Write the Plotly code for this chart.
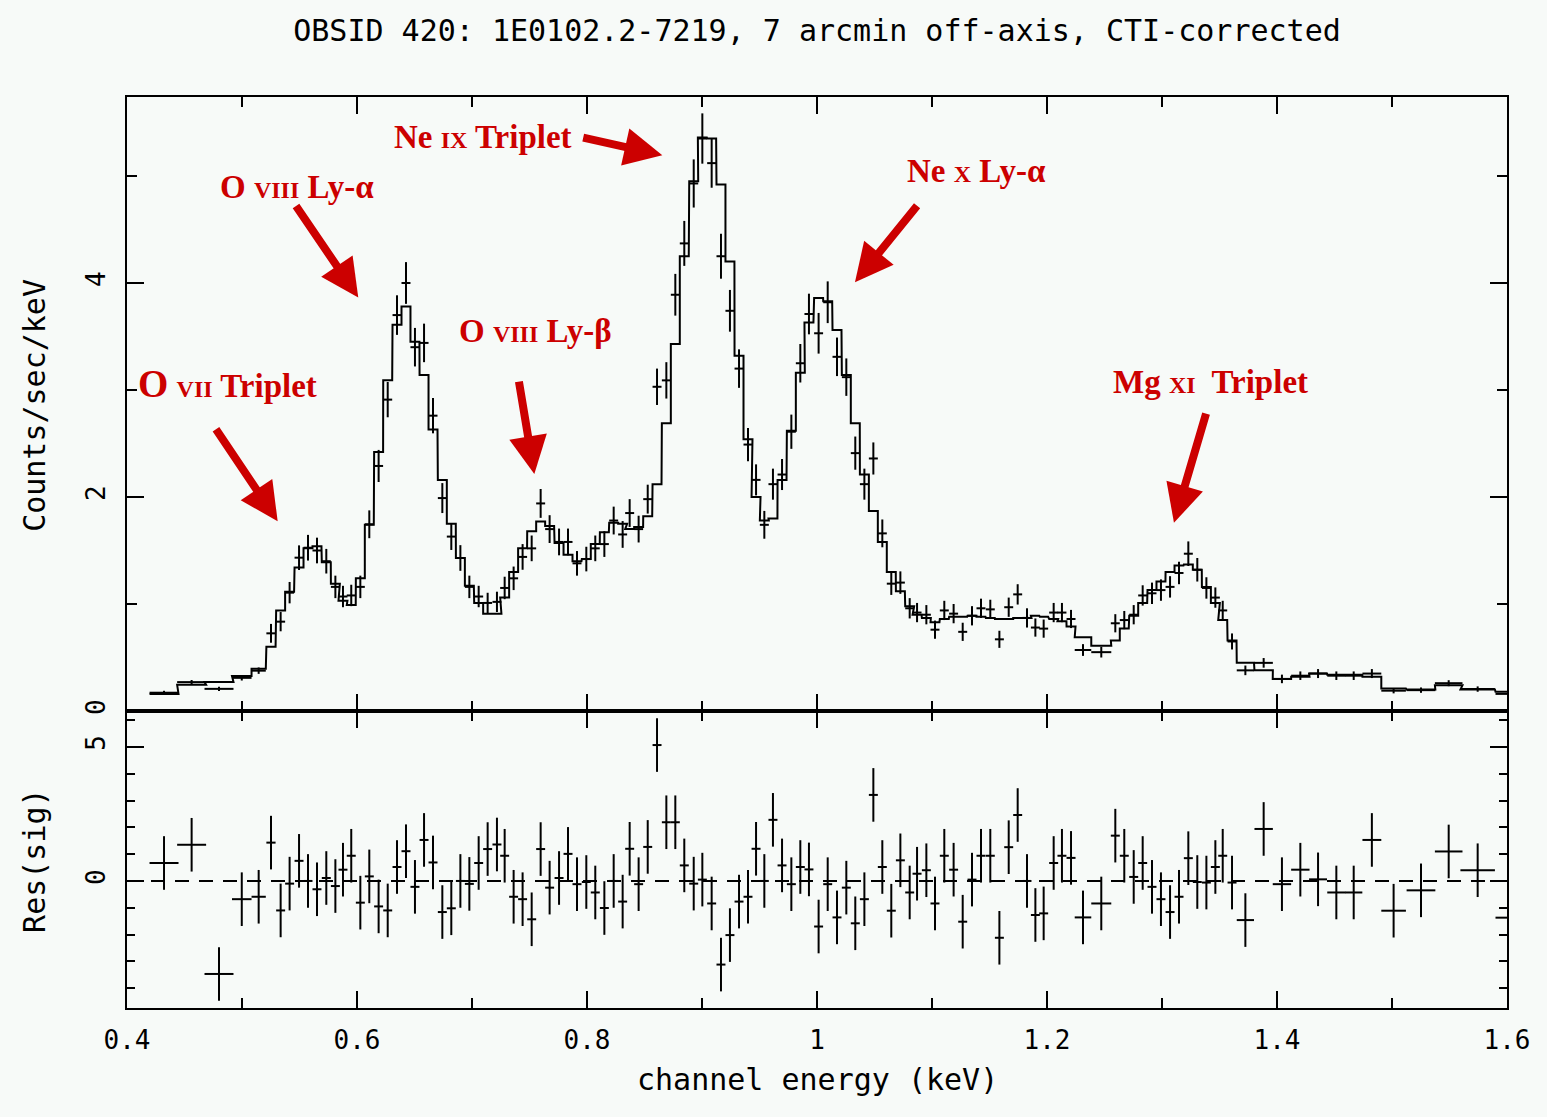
import plotly.graph_objects as go

# ---------------- data ----------------
energy = [
    0.4322, 0.4562, 0.4800, 0.4998, 0.5145, 0.5252,
    0.5336, 0.5414, 0.5496, 0.5574, 0.5652, 0.5733, 0.5812, 0.5878, 0.5950, 0.6029,
    0.6107, 0.6188, 0.6267, 0.6348, 0.6426, 0.6504, 0.6583, 0.6661, 0.6742, 0.6820,
    0.6899, 0.6977, 0.7058, 0.7136, 0.7217, 0.7284, 0.7362, 0.7440, 0.7519, 0.7597,
    0.7675, 0.7757, 0.7835, 0.7913, 0.7994,
    0.8072, 0.8151, 0.8232, 0.8310, 0.8371, 0.8449, 0.8528, 0.8609, 0.8690, 0.8768,
    0.8846, 0.8928, 0.9003, 0.9084, 0.9165, 0.9243, 0.9322, 0.9400, 0.9470, 0.9542,
    0.9617, 0.9696, 0.9777, 0.9855, 0.9930, 1.0014, 1.0093, 1.0174, 1.0255, 1.0333,
    1.0412, 1.0490, 1.0568, 1.0646, 1.0725, 1.0806, 1.0870, 1.0951, 1.1026, 1.1107,
    1.1188, 1.1267, 1.1348, 1.1426, 1.1507, 1.1586, 1.1667, 1.1745, 1.1826, 1.1899,
    1.1971, 1.2058, 1.2130, 1.2209, 1.2313, 1.2472, 1.2594, 1.2672, 1.2754, 1.2832,
    1.2913, 1.2991, 1.3070, 1.3148, 1.3229, 1.3307, 1.3386, 1.3464, 1.3528, 1.3609,
    1.3725, 1.3884, 1.4043, 1.4203, 1.4357, 1.4516, 1.4667, 1.4825, 1.5014, 1.5252,
    1.5493, 1.5745, 1.6025]

half_width = [
    0.0126, 0.0126, 0.0126, 0.0085, 0.0062, 0.0040,
    0.0039, 0.0039, 0.0039, 0.0039, 0.0039, 0.0039, 0.0039, 0.0039, 0.0039, 0.0039,
    0.0039, 0.0039, 0.0039, 0.0039, 0.0039, 0.0039, 0.0039, 0.0039, 0.0039, 0.0039,
    0.0039, 0.0039, 0.0039, 0.0039, 0.0039, 0.0039, 0.0039, 0.0039, 0.0039, 0.0039,
    0.0039, 0.0039, 0.0039, 0.0039, 0.0039,
    0.0039, 0.0039, 0.0039, 0.0039, 0.0039, 0.0039, 0.0039, 0.0039, 0.0039, 0.0039,
    0.0039, 0.0039, 0.0039, 0.0039, 0.0039, 0.0039, 0.0039, 0.0039, 0.0039, 0.0039,
    0.0039, 0.0039, 0.0039, 0.0039, 0.0039, 0.0039, 0.0039, 0.0039, 0.0039, 0.0039,
    0.0039, 0.0039, 0.0039, 0.0039, 0.0039, 0.0039, 0.0039, 0.0039, 0.0039, 0.0039,
    0.0039, 0.0039, 0.0039, 0.0039, 0.0039, 0.0039, 0.0039, 0.0039, 0.0039, 0.0039,
    0.0039, 0.0039, 0.0039, 0.0039, 0.0072, 0.0087, 0.0039, 0.0039, 0.0039, 0.0039,
    0.0039, 0.0039, 0.0039, 0.0039, 0.0039, 0.0039, 0.0039, 0.0039, 0.0039, 0.0039,
    0.0075, 0.0080, 0.0080, 0.0080, 0.0078, 0.0079, 0.0075, 0.0082, 0.0107, 0.0125,
    0.0120, 0.0150, 0.0125]

rate = [
    0.171, 0.270, 0.207, 0.310, 0.377, 0.726,
    0.835, 1.106, 1.433, 1.526, 1.500, 1.400, 1.160, 1.070, 1.080, 1.160,
    1.745, 2.290, 2.910, 3.700, 4.000, 3.400, 3.440, 2.760, 1.990, 1.630,
    1.430, 1.160, 1.070, 1.010, 1.020, 1.150, 1.240, 1.440, 1.520, 1.940,
    1.700, 1.580, 1.580, 1.380, 1.420,
    1.520, 1.560, 1.780, 1.650, 1.850, 1.700, 1.980, 3.030, 3.090, 3.890,
    4.370, 4.930, 5.350, 5.120, 4.250, 3.740, 3.200, 2.490, 2.160, 1.740,
    2.120, 2.210, 2.610, 3.250, 3.710, 3.530, 3.820, 3.310, 3.120, 2.410,
    2.120, 2.360, 1.660, 1.190, 1.200, 0.960, 0.920, 0.900, 0.760, 0.940,
    0.910, 0.740, 0.890, 0.960, 0.950, 0.670, 0.970, 1.090, 0.870, 0.780,
    0.770, 0.920, 0.920, 0.860, 0.570, 0.550, 0.820, 0.850, 0.900, 1.080,
    1.100, 1.130, 1.160, 1.290, 1.470, 1.320, 1.150, 1.060, 0.940, 0.650,
    0.380, 0.450, 0.300, 0.330, 0.350, 0.330, 0.330, 0.350, 0.190, 0.195,
    0.260, 0.205, 0.160]

rate_err = [
    0.018, 0.020, 0.019, 0.025, 0.030, 0.088,
    0.090, 0.100, 0.115, 0.120, 0.120, 0.115, 0.105, 0.100, 0.100, 0.105,
    0.130, 0.150, 0.165, 0.185, 0.195, 0.180, 0.180, 0.165, 0.140, 0.125,
    0.120, 0.105, 0.100, 0.095, 0.095, 0.105, 0.110, 0.120, 0.120, 0.135,
    0.130, 0.125, 0.125, 0.115, 0.115,
    0.120, 0.120, 0.130, 0.125, 0.130, 0.125, 0.135, 0.170, 0.170, 0.195,
    0.210, 0.225, 0.235, 0.230, 0.210, 0.195, 0.180, 0.155, 0.145, 0.130,
    0.145, 0.145, 0.160, 0.180, 0.190, 0.190, 0.195, 0.180, 0.175, 0.155,
    0.145, 0.150, 0.130, 0.105, 0.105, 0.095, 0.090, 0.090, 0.085, 0.090,
    0.090, 0.085, 0.090, 0.090, 0.090, 0.080, 0.090, 0.095, 0.090, 0.085,
    0.085, 0.090, 0.090, 0.085, 0.055, 0.050, 0.085, 0.085, 0.090, 0.095,
    0.100, 0.100, 0.100, 0.105, 0.115, 0.110, 0.100, 0.095, 0.090, 0.075,
    0.045, 0.045, 0.040, 0.040, 0.042, 0.040, 0.040, 0.042, 0.025, 0.025,
    0.028, 0.025, 0.022]

model = [
    0.160, 0.245, 0.272, 0.327, 0.395, 0.600,
    0.940, 1.115, 1.340, 1.520, 1.540, 1.390, 1.190, 1.030, 0.990, 1.240,
    1.740, 2.420, 3.090, 3.610, 3.780, 3.450, 3.140, 2.630, 2.160, 1.750,
    1.430, 1.170, 1.010, 0.910, 0.910, 1.060, 1.300, 1.520, 1.680, 1.770,
    1.730, 1.570, 1.460, 1.400, 1.420,
    1.560, 1.670, 1.760, 1.750, 1.700, 1.720, 1.820, 2.120, 2.690, 3.430,
    4.250, 4.950, 5.360, 5.350, 4.920, 4.200, 3.320, 2.540, 2.000, 1.780,
    1.800, 2.160, 2.620, 3.160, 3.630, 3.860, 3.830, 3.560, 3.140, 2.690,
    2.210, 1.870, 1.580, 1.300, 1.120, 0.980, 0.900, 0.870, 0.830, 0.860,
    0.880, 0.880, 0.890, 0.880, 0.870, 0.860, 0.860, 0.870, 0.870, 0.890,
    0.880, 0.860, 0.840, 0.790, 0.690, 0.610, 0.660, 0.770, 0.890, 1.010,
    1.130, 1.210, 1.300, 1.360, 1.370, 1.320, 1.160, 1.010, 0.850, 0.660,
    0.450, 0.380, 0.300, 0.320, 0.350, 0.340, 0.340, 0.320, 0.210, 0.200,
    0.240, 0.200, 0.180]

resid = [
    0.67, 1.35, -3.47, -0.68, -0.59, 1.43,
    -1.10, -0.10, 0.75, 0.00, -0.31, 0.11, -0.19, 0.42, 0.94, -0.81,
    0.17, -0.95, -1.10, 0.52, 1.11, -0.22, 1.53, 0.69, -1.16, -1.02,
    0.00, -0.11, 0.67, 1.19, 1.36, 0.94, -0.59, -0.68, -1.43, 1.19,
    -0.25, 0.11, 1.01, -0.12, -0.04,
    -0.43, -1.01, 0.00, -0.77, 1.20, -0.12, 1.27, 5.07, 2.19, 2.19,
    0.58, -0.10, 0.05, -0.84, -3.12, -2.02, -0.77, -0.59, 1.20, 0.00,
    2.28, 0.58, -0.12, 0.52, 0.43, -1.70, -0.12, -1.36, -0.25, -1.58,
    -0.68, 3.21, 0.52, -1.11, 0.77, -0.43, 0.27, 0.40, -0.84, 0.94,
    0.42, -1.52, 0.05, 0.94, 0.94, -2.12, 1.26, 2.46, 0.00, -1.27,
    -1.21, 0.67, 0.94, 0.86, -1.36, -0.84, 1.69, 0.94, 0.15, 0.67,
    -0.22, -0.68, -1.16, -0.59, 0.85, -0.04, -0.06, 0.52, 0.94, -0.06,
    -1.46, 1.94, -0.12, 0.42, 0.06, -0.43, -0.43, 1.53, -1.11, -0.35,
    1.10, 0.40, -1.37]

title_text = "OBSID 420: 1E0102.2-7219, 7 arcmin off-axis, CTI-corrected"
x_title = "channel energy (keV)"
y_title_top = "Counts/sec/keV"
y_title_bottom = "Res(sig)"

# line labels: (html text, label x, label y, arrow tail x, tail y, arrow head x, head y) in data units
SC = "<span style='font-size:24px'>{}</span>"
line_labels = [
    ("<span style='font-size:39px'>O</span> " + SC.format("VII") + " Triplet", 0.4878, 3.065, 0.4765, 2.648, 0.5310, 1.774),
    ("O " + SC.format("VIII") + " Ly-α", 0.5478, 4.897, 0.5461, 4.734, 0.6011, 3.864),
    ("Ne " + SC.format("IX") + " Triplet", 0.7096, 5.364, 0.7954, 5.361, 0.8655, 5.194),
    ("O " + SC.format("VIII") + " Ly-β", 0.7548, 3.551, 0.7406, 3.093, 0.7542, 2.215),
    ("Ne " + SC.format("X") + " Ly-α", 1.1383, 5.047, 1.0881, 4.735, 1.0330, 4.006),
    ("Mg " + SC.format("XI") + "  Triplet", 1.3426, 3.075, 1.3387, 2.794, 1.3104, 1.760),
]

# ---------------- figure ----------------
BG = "#f7faf8"
MONO = "DejaVu Sans Mono"
RED = "#cc0000"

fig = go.Figure()

# model as a step histogram
mx, my = [], []
for e, w, m in zip(energy, half_width, model):
    mx += [e - w, e + w]
    my += [m, m]
fig.add_trace(go.Scatter(x=mx, y=my, mode="lines", line=dict(color="black", width=2),
                         xaxis="x", yaxis="y", hoverinfo="skip"))

# data crosses
fig.add_trace(go.Scatter(
    x=energy, y=rate, mode="markers", xaxis="x", yaxis="y",
    marker=dict(size=1, color="rgba(0,0,0,0)"),
    error_x=dict(type="data", array=half_width, color="black", thickness=2, width=0),
    error_y=dict(type="data", array=rate_err, color="black", thickness=2, width=0)))

# residual crosses
fig.add_trace(go.Scatter(
    x=energy, y=resid, mode="markers", xaxis="x2", yaxis="y2",
    marker=dict(size=1, color="rgba(0,0,0,0)"),
    error_x=dict(type="data", array=half_width, color="black", thickness=2, width=0),
    error_y=dict(type="constant", value=1, color="black", thickness=2, width=0)))

axis_common = dict(showline=True, linecolor="black", linewidth=2, mirror="ticks",
                   ticks="inside", tickcolor="black", tickwidth=2, showgrid=False,
                   zeroline=False, tickfont=dict(family=MONO, size=26, color="black"))

split = 0.326
fig.update_layout(
    width=1547, height=1117, autosize=False,
    margin=dict(l=127, r=40, t=97, b=109),
    paper_bgcolor=BG, plot_bgcolor=BG, showlegend=False,
    title=dict(text=title_text, x=0.5, xref="paper", xanchor="center",
               y=1 - 30 / 1117, yref="container", yanchor="middle",
               font=dict(family=MONO, size=30, color="black")),
    xaxis=dict(axis_common, domain=[0, 1], range=[0.4, 1.6], anchor="y",
               tick0=0.4, dtick=0.2, ticklen=17, showticklabels=False,
               minor=dict(ticks="inside", dtick=0.1, ticklen=10, tickwidth=2, tickcolor="black")),
    yaxis=dict(axis_common, domain=[split, 1], range=[0, 5.738], anchor="x",
               tick0=0, dtick=2, ticklen=17, tickangle=-90, ticklabelstandoff=10,
               minor=dict(ticks="inside", dtick=1, ticklen=10, tickwidth=2, tickcolor="black")),
    xaxis2=dict(axis_common, domain=[0, 1], range=[0.4, 1.6], anchor="y2", matches="x",
                tick0=0.4, dtick=0.2, ticklen=17, ticklabelstandoff=8,
                minor=dict(ticks="inside", dtick=0.1, ticklen=10, tickwidth=2, tickcolor="black")),
    yaxis2=dict(axis_common, domain=[0, split], range=[-4.74, 6.34], anchor="x2",
                tick0=0, dtick=5, ticklen=17, tickangle=-90, ticklabelstandoff=10,
                minor=dict(ticks="inside", dtick=1, ticklen=8, tickwidth=2, tickcolor="black")),
)

# zero line of residuals
fig.add_shape(type="line", xref="x2", yref="y2", x0=0.4, x1=1.6, y0=0, y1=0,
              line=dict(color="black", width=2, dash="14px,10px"))

# axis titles
fig.add_annotation(text=x_title, xref="paper", yref="paper", x=0.5, y=-0.079,
                   showarrow=False, xanchor="center", yanchor="middle",
                   font=dict(family=MONO, size=30, color="black"))
fig.add_annotation(text=y_title_top, xref="paper", yref="paper", x=-0.0667, y=0.662,
                   showarrow=False, textangle=-90, xanchor="center", yanchor="middle",
                   font=dict(family=MONO, size=30, color="black"))
fig.add_annotation(text=y_title_bottom, xref="paper", yref="paper", x=-0.0667, y=0.1625,
                   showarrow=False, textangle=-90, xanchor="center", yanchor="middle",
                   font=dict(family=MONO, size=30, color="black"))

# red line labels and arrows
for txt, lx, ly, tx, ty, hx, hy in line_labels:
    fig.add_annotation(text="<b>" + txt + "</b>", x=lx, y=ly, xref="x", yref="y",
                       showarrow=False, xanchor="center", yanchor="middle",
                       font=dict(family="Liberation Serif", size=33, color=RED))
    fig.add_annotation(text="", x=hx, y=hy, ax=tx, ay=ty, xref="x", yref="y",
                       axref="x", ayref="y", showarrow=True, arrowhead=2,
                       arrowsize=0.95, arrowwidth=8, arrowcolor=RED, standoff=0)

fig.write_html("out.html")
